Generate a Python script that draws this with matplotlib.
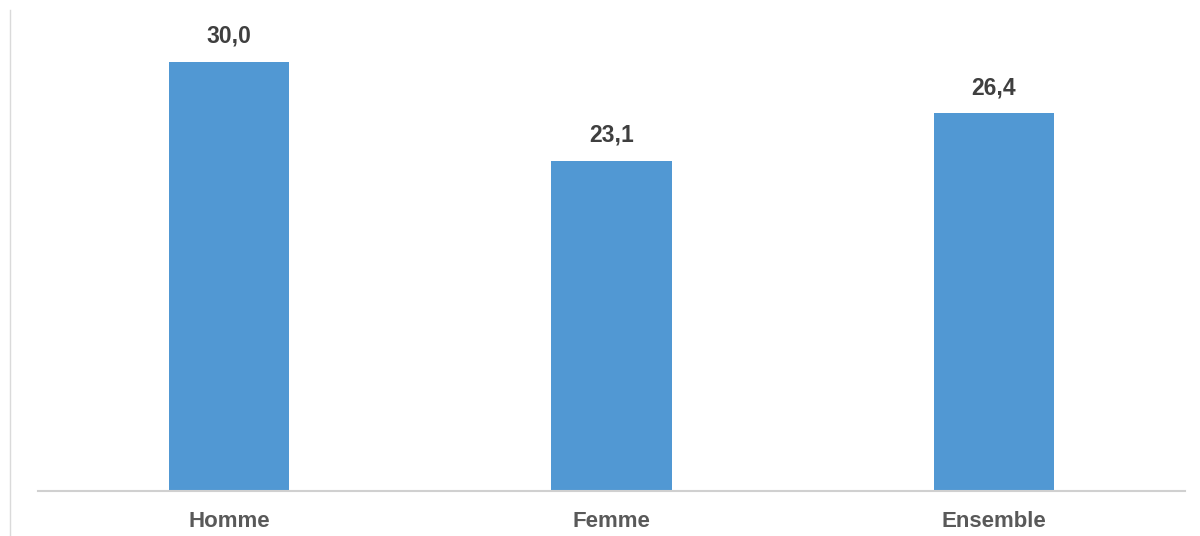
import matplotlib
matplotlib.use("Agg")
import matplotlib.pyplot as plt
from matplotlib.lines import Line2D

categories = ["Homme", "Femme", "Ensemble"]
values = [30.0, 23.1, 26.4]
value_labels = ["30,0", "23,1", "26,4"]

plt.rcParams["font.family"] = ["Liberation Sans", "DejaVu Sans"]

fig = plt.figure(figsize=(12, 5.36), dpi=100)
W, H = 1200, 536
left, right = 38, 1185
bottom, top = 491, 10
ax = fig.add_axes([left / W, (H - bottom) / H, (right - left) / W, (bottom - top) / H])

bar_color = "#5198D3"
x = range(len(categories))
ax.bar(x, values, width=0.314, color=bar_color, zorder=2)

scale = (491 - 62) / 30.0
ax.set_ylim(0, (bottom - top) / scale)
ax.set_xlim(-0.5, len(categories) - 0.5)

for xi, v, lab in zip(x, values, value_labels):
    ax.annotate(lab, (xi, v), xytext=(0, 14), textcoords="offset pixels",
                ha="center", va="bottom", fontsize=16.5, fontweight="bold",
                color="#3F3F3F")

ax.set_xticks(list(x))
ax.set_xticklabels(categories, fontsize=16, fontweight="bold", color="#595959")
ax.tick_params(axis="x", length=0, pad=14.5)
ax.set_yticks([])

for s in ["top", "right", "left"]:
    ax.spines[s].set_visible(False)
ax.spines["bottom"].set_color("#D0D0D0")
ax.spines["bottom"].set_linewidth(1.5)

# thin frame line on the left edge
fig.add_artist(Line2D([9.5 / W, 9.5 / W], [0, (H - 10) / H],
                      color="#DADADA", linewidth=1.0))

fig.savefig("out.png", dpi=100)
